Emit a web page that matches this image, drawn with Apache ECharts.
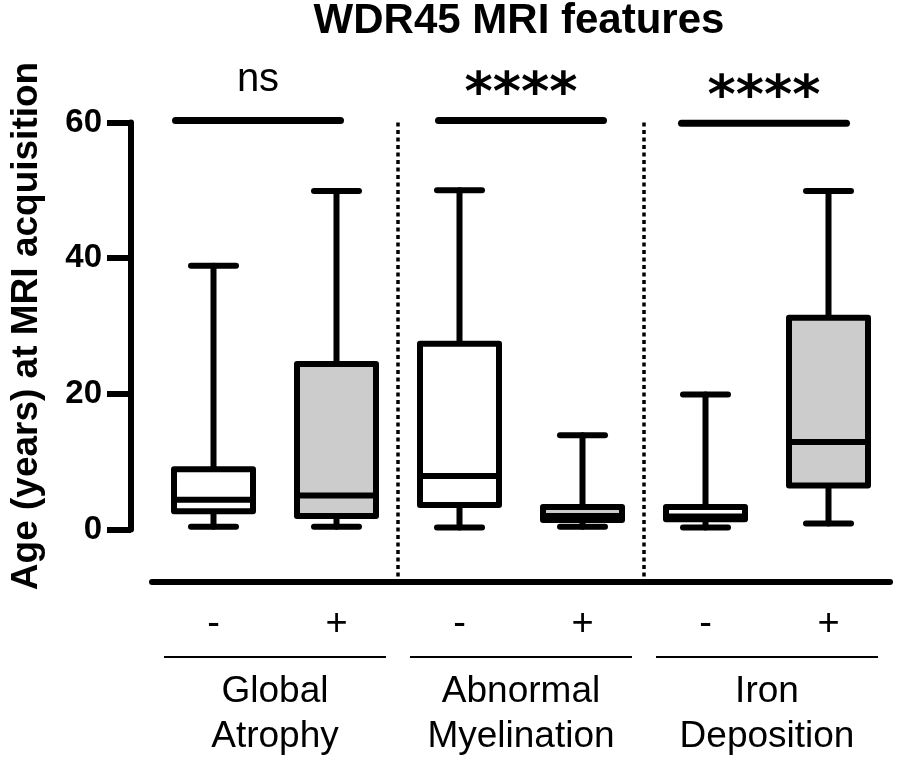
<!DOCTYPE html>
<html>
<head>
<meta charset="utf-8">
<script src="https://cdn.jsdelivr.net/npm/echarts@6/dist/echarts.min.js"></script>
<style>
  html, body { margin: 0; padding: 0; background: #fff; }
  #chart { width: 900px; height: 763px; }
</style>
</head>
<body>
<div id="chart"></div>
<script>
// box plot values (age in years)
const categories = ['-', '+', '-', '+', '-', '+']
const whiskerLow = [0.4, 0.4, 0.3, 0.4, 0.3, 0.9]
const q1 = [2.7, 2.0, 3.6, 1.4, 1.5, 6.5]
const median = [4.4, 5.0, 7.9, 2.0, 1.9, 12.9]
const q3 = [8.9, 24.4, 27.4, 3.3, 3.3, 31.2]
const whiskerHigh = [38.9, 49.9, 50, 13.9, 19.9, 49.9]

// each MRI feature spans one '-' box and one '+' box
const groupNames = ['Global\nAtrophy', 'Abnormal\nMyelination', 'Iron\nDeposition']
const sigLabels = ['ns', '****', '****']
const sigLevel = [60.3, 60.3, 59.9]

const yTicks = [0, 20, 40, 60]

const boxData = categories.map((c, i) => [i, whiskerLow[i], q1[i], median[i], q3[i], whiskerHigh[i]])
const groupData = groupNames.map((n, g) => [g, sigLevel[g]])

function renderBox(params, api) {
  const i = api.value(0)
  const x = api.coord([i, 0])[0]
  const yLow = api.coord([i, api.value(1)])[1]
  const yQ1 = api.coord([i, api.value(2)])[1]
  const yMed = api.coord([i, api.value(3)])[1]
  const yQ3 = api.coord([i, api.value(4)])[1]
  const yHigh = api.coord([i, api.value(5)])[1]
  const halfBox = 39.5
  const halfCap = 22.5
  const ln = { stroke: '#000', lineWidth: 6, lineCap: 'round' }
  const fill = categories[i] === '+' ? '#cccccc' : '#ffffff'
  return {
    type: 'group',
    children: [
      { type: 'line', shape: { x1: x, y1: yQ3, x2: x, y2: yHigh }, style: ln },
      { type: 'line', shape: { x1: x, y1: yQ1, x2: x, y2: yLow }, style: ln },
      { type: 'line', shape: { x1: x - halfCap, y1: yHigh, x2: x + halfCap, y2: yHigh }, style: ln },
      { type: 'line', shape: { x1: x - halfCap, y1: yLow, x2: x + halfCap, y2: yLow }, style: ln },
      {
        type: 'rect',
        shape: { x: x - halfBox, y: yQ3, width: halfBox * 2, height: yQ1 - yQ3 },
        style: { fill: fill, stroke: '#000', lineWidth: 6, lineJoin: 'round' }
      },
      { type: 'line', shape: { x1: x - halfBox, y1: yMed, x2: x + halfBox, y2: yMed }, style: { stroke: '#000', lineWidth: 6 } }
    ]
  }
}

// sig bars sit a little off-centre in the original
const barShift = [-17, 0, -3]

function renderGroup(params, api) {
  const g = api.value(0)
  const level = api.value(1)
  const left = api.coord([2 * g, level])
  const right = api.coord([2 * g + 1, level])
  const base = api.coord([2 * g, 0])[1]
  const top = api.coord([2 * g, yTicks[yTicks.length - 1]])[1]
  const mid = (left[0] + right[0]) / 2
  const s = barShift[g]
  const stars = sigLabels[g].indexOf('*') >= 0
  const children = [
    {
      type: 'line',
      shape: { x1: left[0] - 21 + s, y1: left[1], x2: right[0] + 21 + s, y2: left[1] },
      style: { stroke: '#000', lineWidth: 7, lineCap: 'round' }
    },
    {
      type: 'text',
      x: mid + s,
      y: left[1] - (stars ? 24 : 40),
      style: {
        text: sigLabels[g],
        fill: '#000',
        align: 'center',
        verticalAlign: 'middle',
        font: stars ? "bold 54px 'DejaVu Sans'" : "40px 'Liberation Sans'"
      }
    },
    {
      type: 'line',
      shape: { x1: mid - 111, y1: base + 127.5, x2: mid + 111, y2: base + 127.5 },
      style: { stroke: '#000', lineWidth: 2 }
    },
    {
      type: 'text',
      x: mid,
      y: base + 140,
      style: {
        text: groupNames[g],
        fill: '#000',
        align: 'center',
        verticalAlign: 'top',
        lineHeight: 45,
        font: "37px 'Liberation Sans'"
      }
    }
  ]
  if (g > 0) {
    const sx = (api.coord([2 * g - 1, 0])[0] + left[0]) / 2
    children.push({
      type: 'line',
      shape: { x1: sx, y1: top, x2: sx, y2: base + 55 },
      style: { stroke: '#000', lineWidth: 3.5, lineDash: [4, 3.5] }
    })
  }
  return { type: 'group', children: children }
}

const option = {
  backgroundColor: '#fff',
  animation: false,
  title: {
    text: 'WDR45 MRI features',
    left: 514,
    textAlign: 'center',
    top: -5,
    textStyle: { fontFamily: 'Liberation Sans', fontWeight: 'bold', fontSize: 42, color: '#000' }
  },
  grid: { left: 150, right: 10, top: 122.5, bottom: 233.5 },
  xAxis: {
    type: 'category',
    data: categories,
    offset: 52.5,
    axisLine: { onZero: false, lineStyle: { color: '#000', width: 6 } },
    axisTick: { show: false },
    axisLabel: { color: '#000', fontSize: 38, fontFamily: 'Liberation Sans', margin: 24 },
    splitLine: { show: false }
  },
  yAxis: {
    type: 'value',
    min: yTicks[0],
    max: yTicks[yTicks.length - 1],
    interval: yTicks[1] - yTicks[0],
    offset: 21,
    name: 'Age (years) at MRI acquisition',
    nameLocation: 'middle',
    nameGap: 86,
    nameTextStyle: { fontFamily: 'Liberation Sans', fontWeight: 'bold', fontSize: 37, color: '#000' },
    axisLine: { show: true, lineStyle: { color: '#000', width: 6 } },
    axisTick: { show: true, length: 24, lineStyle: { color: '#000', width: 6 } },
    axisLabel: { color: '#000', fontSize: 33, fontWeight: 'bold', fontFamily: 'Liberation Sans', margin: 29 },
    splitLine: { show: false }
  },
  series: [
    {
      type: 'custom',
      name: 'boxes',
      clip: false,
      renderItem: renderBox,
      encode: { x: 0, y: [1, 2, 3, 4, 5] },
      data: boxData
    },
    {
      type: 'custom',
      name: 'groups',
      clip: false,
      silent: true,
      renderItem: renderGroup,
      encode: { x: 0, y: 1 },
      data: groupData
    }
  ]
}

const myChart = echarts.init(document.getElementById('chart'))
myChart.setOption(option)
</script>
</body>
</html>
